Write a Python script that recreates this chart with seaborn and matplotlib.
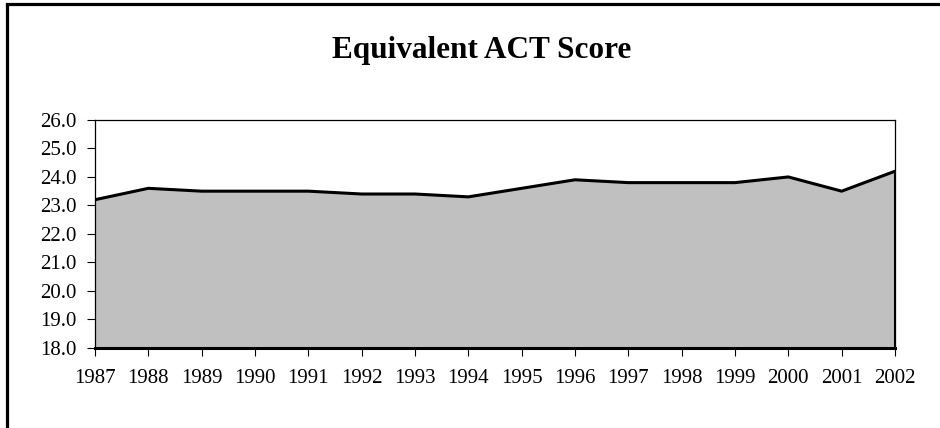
import numpy as np
import pandas as pd
import matplotlib.pyplot as plt
from matplotlib.lines import Line2D
import seaborn as sns

#data
years = [1987, 1988, 1989, 1990, 1991, 1992, 1993, 1994,
         1995, 1996, 1997, 1998, 1999, 2000, 2001, 2002]
act_score = [23.2, 23.6, 23.5, 23.5, 23.5, 23.4, 23.4, 23.3,
             23.6, 23.9, 23.8, 23.8, 23.8, 24.0, 23.5, 24.2]
y_ticks = [18.0, 19.0, 20.0, 21.0, 22.0, 23.0, 24.0, 25.0, 26.0]

df = pd.DataFrame({"Year": years, "Score": act_score})

sns.set_style("white")
plt.rcParams['font.family'] = ['Liberation Serif', 'DejaVu Serif']
plt.rcParams['text.color'] = 'black'

fig = plt.figure(figsize=(9.4, 4.28), dpi=100)
ax = fig.add_axes([0.1011, 0.1876, 0.851, 0.532])

#grey area with black outline
ax.fill_between(df["Year"], y_ticks[0], df["Score"], color="#c0c0c0", linewidth=0)
sns.lineplot(data=df, x="Year", y="Score", ax=ax, color="black", linewidth=2.2)
ax.vlines(years[-1], y_ticks[0], act_score[-1], color="black", linewidth=2.2)

ax.set_xlim(years[0], years[-1])
ax.set_ylim(y_ticks[0], y_ticks[-1])
ax.set_xticks(years)
ax.set_xticklabels([str(y) for y in years])
ax.set_yticks(y_ticks)
ax.set_yticklabels([f"{v:.1f}" for v in y_ticks])
ax.set_xlabel("")
ax.set_ylabel("")

for side in ["top", "right", "left"]:
    ax.spines[side].set_color("black")
    ax.spines[side].set_linewidth(0.9)
ax.spines["bottom"].set_color("black")
ax.spines["bottom"].set_linewidth(2.2)

ax.tick_params(axis="both", direction="out", length=6, width=0.8, color="black",
               labelsize=15, labelcolor="black")
ax.tick_params(axis="x", pad=9)
ax.tick_params(axis="y", pad=7)
ax.tick_params(bottom=True, left=True)

fig.text(0.512, 0.883, "Equivalent ACT Score", ha="center", va="center",
         fontsize=22.5, fontweight="bold", color="black")

#outer frame (only top and left edges show in the picture)
fig.add_artist(Line2D([6.5 / 940, 6.5 / 940], [0, 1 - 3.5 / 428],
                      transform=fig.transFigure, color="black", linewidth=2.3))
fig.add_artist(Line2D([6.5 / 940, 1], [1 - 3.5 / 428, 1 - 3.5 / 428],
                      transform=fig.transFigure, color="black", linewidth=2.3,
                      solid_capstyle="projecting"))

plt.savefig("out.png", dpi=100)
